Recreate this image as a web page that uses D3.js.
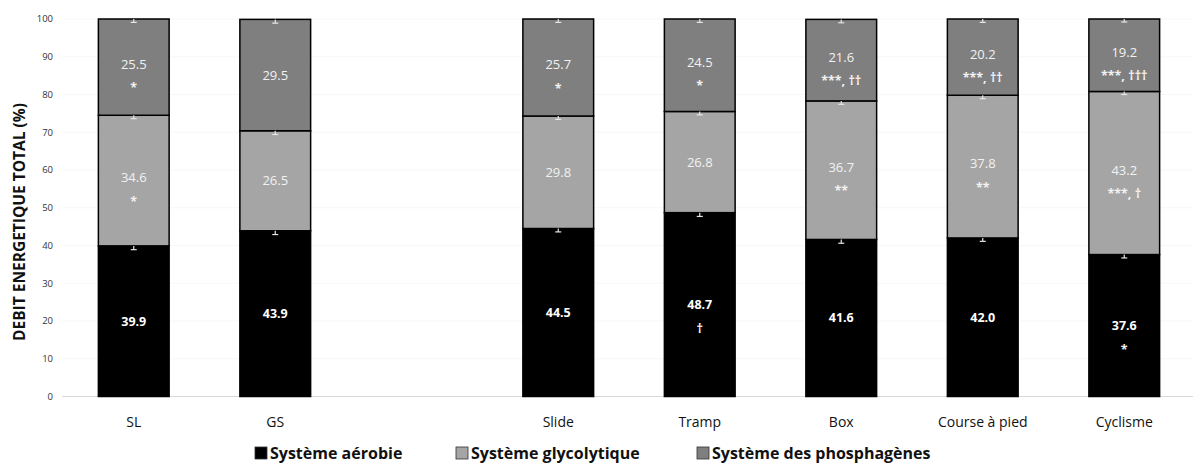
<!DOCTYPE html>
<html>
<head>
<meta charset="utf-8">
<script src="https://cdn.jsdelivr.net/npm/d3@7"></script>
<style>
  body { margin: 0; background: #fff; }
  svg { display: block; font-family: "Open Sans", "Noto Sans", sans-serif; }
</style>
</head>
<body>
<div id="chart"></div>
<script>
// categories (a blank slot sits between GS and Slide)
const categories = ['SL', 'GS', 'Slide', 'Tramp', 'Box', 'Course à pied', 'Cyclisme'];
const slots = ['SL', 'GS', '', 'Slide', 'Tramp', 'Box', 'Course à pied', 'Cyclisme'];

// % of total energy by system
const aerobie = [39.9, 43.9, 44.5, 48.7, 41.6, 42.0, 37.6];
const glycolytique = [34.6, 26.5, 29.8, 26.8, 36.7, 37.8, 43.2];
const phosphagenes = [25.5, 29.5, 25.7, 24.5, 21.6, 20.2, 19.2];

// error bars (estimated)
const errAerobie = [1.0, 1.0, 0.9, 1.0, 1.0, 0.9, 0.9];
const errGlyco = [0.9, 1.0, 0.9, 0.9, 0.9, 0.9, 0.8];
const errPhospho = [0.9, 1.0, 0.9, 0.9, 0.9, 0.9, 0.8];

// significance marks
const sigAerobie = ['', '', '', '†', '', '', '*'];
const sigGlyco = ['*', '', '', '', '**', '**', '***, †'];
const sigPhospho = ['*', '', '*', '*', '***, ††', '***, ††', '***, †††'];

const yTicks = [0, 10, 20, 30, 40, 50, 60, 70, 80, 90, 100];
const legendLabels = ['Système aérobie', 'Système glycolytique', 'Système des phosphagènes'];

const width = 1193, height = 465;
const colors = ['#000000', '#a5a5a5', '#7f7f7f'];

const svg = d3.select('#chart').append('svg')
  .attr('width', width)
  .attr('height', height);

const x = d3.scaleBand()
  .domain(slots)
  .range([63, 1195])
  .paddingInner(0.5)
  .paddingOuter(0.25);

const y = d3.scaleLinear()
  .domain([0, 100])
  .range([396.5, 19]);

// faint grid
svg.append('g')
  .selectAll('line')
  .data(yTicks)
  .join('line')
  .attr('x1', 62).attr('x2', width)
  .attr('y1', d => y(d)).attr('y2', d => y(d))
  .attr('stroke', d => d === 0 ? '#d9d9d9' : '#f7f7f7')
  .attr('stroke-width', 1);

// y tick labels
svg.append('g')
  .selectAll('text')
  .data(yTicks)
  .join('text')
  .attr('x', 53)
  .attr('y', d => y(d))
  .attr('dy', '0.35em')
  .attr('text-anchor', 'end')
  .attr('font-size', 9.5)
  .attr('fill', '#333')
  .text(d => d);

// y axis title
svg.append('text')
  .attr('transform', 'translate(25,222) rotate(-90)')
  .attr('text-anchor', 'middle')
  .attr('font-size', 15.5)
  .attr('font-weight', 'bold')
  .attr('fill', '#111')
  .text('DEBIT ENERGETIQUE TOTAL (%)');

// build stacked rows
const series = [aerobie, glycolytique, phosphagenes];
const errs = [errAerobie, errGlyco, errPhospho];
const sigs = [sigAerobie, sigGlyco, sigPhospho];

const rows = [];
categories.forEach((c, i) => {
  let base = 0;
  series.forEach((s, k) => {
    rows.push({ cat: c, k: k, y0: base, y1: base + s[i], v: s[i], err: errs[k][i], sig: sigs[k][i] });
    base += s[i];
  });
});

const bars = svg.append('g');

bars.selectAll('rect')
  .data(rows)
  .join('rect')
  .attr('x', d => x(d.cat))
  .attr('width', x.bandwidth())
  .attr('y', d => y(d.y1))
  .attr('height', d => y(d.y0) - y(d.y1))
  .attr('fill', d => colors[d.k])
  .attr('stroke', '#000')
  .attr('stroke-width', 1.5);

// error bars (hanging down from each segment top)
const eb = bars.append('g')
  .attr('stroke', '#e6e6e6')
  .attr('stroke-width', 1.2);

eb.selectAll('line.v')
  .data(rows)
  .join('line')
  .attr('class', 'v')
  .attr('x1', d => x(d.cat) + x.bandwidth() / 2)
  .attr('x2', d => x(d.cat) + x.bandwidth() / 2)
  .attr('y1', d => y(d.y1))
  .attr('y2', d => y(d.y1 - d.err));

eb.selectAll('line.c')
  .data(rows)
  .join('line')
  .attr('class', 'c')
  .attr('x1', d => x(d.cat) + x.bandwidth() / 2 - 3)
  .attr('x2', d => x(d.cat) + x.bandwidth() / 2 + 3)
  .attr('y1', d => y(d.y1 - d.err))
  .attr('y2', d => y(d.y1 - d.err));

// value labels
bars.selectAll('text.val')
  .data(rows)
  .join('text')
  .attr('class', 'val')
  .attr('x', d => x(d.cat) + x.bandwidth() / 2)
  .attr('y', d => (y(d.y0) + y(d.y1)) / 2 - (d.sig && d.k > 0 ? 3 : 0))
  .attr('dy', '0.35em')
  .attr('text-anchor', 'middle')
  .attr('font-size', d => d.k === 0 ? 12.5 : 13)
  .attr('font-weight', d => d.k === 0 ? 'bold' : 'normal')
  .attr('fill', d => d.k === 0 ? '#fff' : '#f2f2f2')
  .text(d => d.v.toFixed(1));

// significance marks
bars.selectAll('text.sig')
  .data(rows.filter(d => d.sig))
  .join('text')
  .attr('class', 'sig')
  .attr('x', d => x(d.cat) + x.bandwidth() / 2)
  .attr('y', d => (y(d.y0) + y(d.y1)) / 2 - (d.k > 0 ? 3 : 0) + 28)
  .attr('text-anchor', 'middle')
  .attr('font-size', 12.5)
  .attr('font-weight', 'bold')
  .attr('fill', '#f2f2f2')
  .text(d => d.sig);

// x labels
svg.append('g')
  .selectAll('text')
  .data(categories)
  .join('text')
  .attr('x', d => x(d) + x.bandwidth() / 2)
  .attr('y', 422)
  .attr('dy', '0.35em')
  .attr('text-anchor', 'middle')
  .attr('font-size', 14)
  .attr('fill', '#111')
  .text(d => d);

// legend
const legendX = [255, 456, 697];
const legend = svg.append('g')
  .selectAll('g')
  .data(legendLabels)
  .join('g')
  .attr('transform', (d, i) => `translate(${legendX[i]},453)`);

legend.append('rect')
  .attr('x', 0).attr('y', -6)
  .attr('width', 12).attr('height', 12)
  .attr('fill', (d, i) => colors[i])
  .attr('stroke', '#333')
  .attr('stroke-width', 0.8);

legend.append('text')
  .attr('x', 15)
  .attr('dy', '0.35em')
  .attr('font-size', 16)
  .attr('font-weight', 'bold')
  .attr('fill', '#111')
  .text(d => d);
</script>
</body>
</html>
